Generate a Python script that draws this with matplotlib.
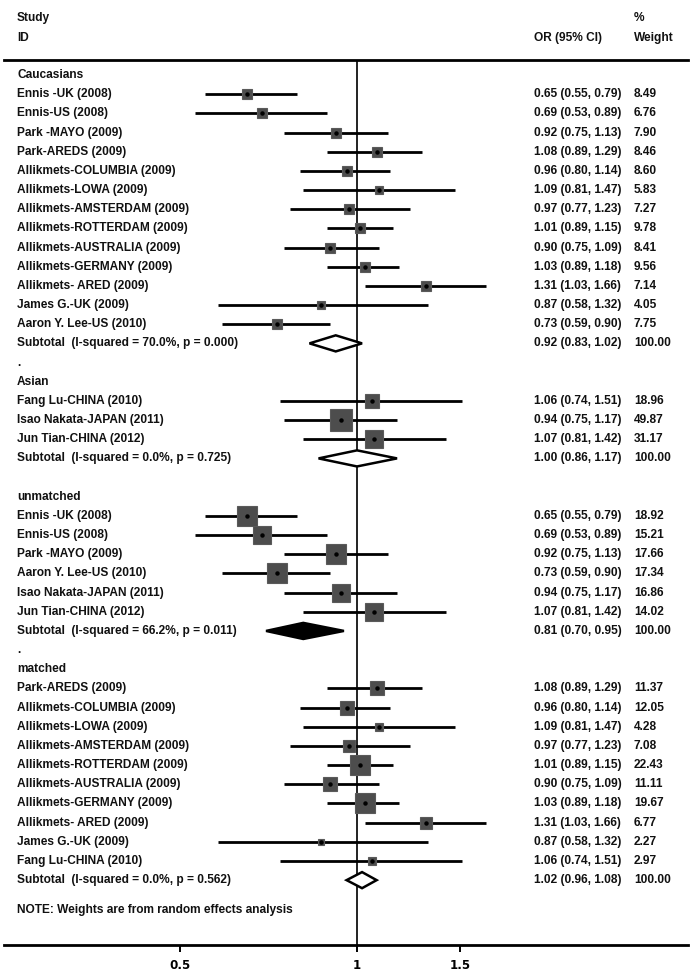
import matplotlib
matplotlib.use("Agg")
import matplotlib.pyplot as plt
from matplotlib.patches import Polygon
from matplotlib.transforms import blended_transform_factory
import numpy as np

# ---- data ----
cau_names = ["Ennis -UK (2008)", "Ennis-US (2008)", "Park -MAYO (2009)", "Park-AREDS (2009)",
             "Allikmets-COLUMBIA (2009)", "Allikmets-LOWA (2009)", "Allikmets-AMSTERDAM (2009)",
             "Allikmets-ROTTERDAM (2009)", "Allikmets-AUSTRALIA (2009)", "Allikmets-GERMANY (2009)",
             "Allikmets- ARED (2009)", "James G.-UK (2009)", "Aaron Y. Lee-US (2010)"]
cau_or = [0.65, 0.69, 0.92, 1.08, 0.96, 1.09, 0.97, 1.01, 0.90, 1.03, 1.31, 0.87, 0.73]
cau_lo = [0.55, 0.53, 0.75, 0.89, 0.80, 0.81, 0.77, 0.89, 0.75, 0.89, 1.03, 0.58, 0.59]
cau_hi = [0.79, 0.89, 1.13, 1.29, 1.14, 1.47, 1.23, 1.15, 1.09, 1.18, 1.66, 1.32, 0.90]
cau_w = [8.49, 6.76, 7.90, 8.46, 8.60, 5.83, 7.27, 9.78, 8.41, 9.56, 7.14, 4.05, 7.75]

asi_names = ["Fang Lu-CHINA (2010)", "Isao Nakata-JAPAN (2011)", "Jun Tian-CHINA (2012)"]
asi_or = [1.06, 0.94, 1.07]
asi_lo = [0.74, 0.75, 0.81]
asi_hi = [1.51, 1.17, 1.42]
asi_w = [18.96, 49.87, 31.17]

unm_names = ["Ennis -UK (2008)", "Ennis-US (2008)", "Park -MAYO (2009)", "Aaron Y. Lee-US (2010)",
             "Isao Nakata-JAPAN (2011)", "Jun Tian-CHINA (2012)"]
unm_or = [0.65, 0.69, 0.92, 0.73, 0.94, 1.07]
unm_lo = [0.55, 0.53, 0.75, 0.59, 0.75, 0.81]
unm_hi = [0.79, 0.89, 1.13, 0.90, 1.17, 1.42]
unm_w = [18.92, 15.21, 17.66, 17.34, 16.86, 14.02]

mat_names = ["Park-AREDS (2009)", "Allikmets-COLUMBIA (2009)", "Allikmets-LOWA (2009)",
             "Allikmets-AMSTERDAM (2009)", "Allikmets-ROTTERDAM (2009)", "Allikmets-AUSTRALIA (2009)",
             "Allikmets-GERMANY (2009)", "Allikmets- ARED (2009)", "James G.-UK (2009)",
             "Fang Lu-CHINA (2010)"]
mat_or = [1.08, 0.96, 1.09, 0.97, 1.01, 0.90, 1.03, 1.31, 0.87, 1.06]
mat_lo = [0.89, 0.80, 0.81, 0.77, 0.89, 0.75, 0.89, 1.03, 0.58, 0.74]
mat_hi = [1.29, 1.14, 1.47, 1.23, 1.15, 1.09, 1.18, 1.66, 1.32, 1.51]
mat_w = [11.37, 12.05, 4.28, 7.08, 22.43, 11.11, 19.67, 6.77, 2.27, 2.97]

group_labels = ["Caucasians", "Asian", "unmatched", "matched"]
sub_labels = ["Subtotal  (I-squared = 70.0%, p = 0.000)",
              "Subtotal  (I-squared = 0.0%, p = 0.725)",
              "Subtotal  (I-squared = 66.2%, p = 0.011)",
              "Subtotal  (I-squared = 0.0%, p = 0.562)"]
sub_or = [0.92, 1.00, 0.81, 1.02]
sub_lo = [0.83, 0.86, 0.70, 0.96]
sub_hi = [1.02, 1.17, 0.95, 1.08]
sub_filled = [False, False, True, False]
gap_text = [".", "", ".", None]
box_scale = [3.5, 3.25, 4.6, 4.3]   # px per sqrt(weight)

groups = [
    (cau_names, cau_or, cau_lo, cau_hi, cau_w),
    (asi_names, asi_or, asi_lo, asi_hi, asi_w),
    (unm_names, unm_or, unm_lo, unm_hi, unm_w),
    (mat_names, mat_or, mat_lo, mat_hi, mat_w),
]

# ---- layout ----
W, H = 693, 976
DPI = 100
row0_px, row_h = 75, 19.17
top_px, bot_px = 60, 945
left_px, right_px = 4, 688
null_px, px_per_ln = 357, 255.0

fig = plt.figure(figsize=(W / DPI, H / DPI), dpi=DPI)
ax = fig.add_axes([left_px / W, (H - bot_px) / H, (right_px - left_px) / W, (bot_px - top_px) / H])
ax.set_xscale("log")
ax.set_xlim(np.exp((left_px - null_px) / px_per_ln), np.exp((right_px - null_px) / px_per_ln))
ax.set_ylim((bot_px - row0_px) / row_h, (top_px - row0_px) / row_h)

plt.rcParams["font.family"] = ["Liberation Sans Narrow", "Liberation Sans", "DejaVu Sans"]
fs = 8.6
tkw = dict(fontsize=fs, fontweight="bold", color="#111111", va="center", clip_on=False)
trans = blended_transform_factory(fig.transFigure, ax.transData)
x_lab, x_ci, x_w = 17 / W, 534 / W, 634 / W

def px2row(p):
    return (p - row0_px) / row_h

ax.text(x_lab, px2row(18), "Study", transform=trans, **tkw)
ax.text(x_lab, px2row(38), "ID", transform=trans, **tkw)
ax.text(x_ci, px2row(38), "OR (95% CI)", transform=trans, **tkw)
ax.text(x_w, px2row(18), "%", transform=trans, **tkw)
ax.text(x_w, px2row(38), "Weight", transform=trans, **tkw)

r = 0
for gi, (names, ors, los, his, ws) in enumerate(groups):
    ax.text(x_lab, r, group_labels[gi], transform=trans, **tkw)
    r += 1
    for n, o, lo, hi, w in zip(names, ors, los, his, ws):
        ax.text(x_lab, r, n, transform=trans, **tkw)
        ax.plot([lo, hi], [r, r], color="black", lw=2.0, solid_capstyle="butt", zorder=3)
        side = box_scale[gi] * np.sqrt(w)
        ax.plot(o, r, marker="s", ms=side * 72 / DPI, color="#4d4d4d", mec="#5a5a5a",
                mew=0.8, zorder=4)
        ax.plot(o, r, marker="o", ms=3.2, color="black", mew=0, zorder=5)
        ax.text(x_ci, r, f"{o:.2f} ({lo:.2f}, {hi:.2f})", transform=trans, **tkw)
        ax.text(x_w, r, f"{w:.2f}", transform=trans, **tkw)
        r += 1
    # subtotal diamond
    ax.text(x_lab, r, sub_labels[gi], transform=trans, **tkw)
    h = 0.42
    o, lo, hi = sub_or[gi], sub_lo[gi], sub_hi[gi]
    dia = Polygon([[lo, r], [o, r - h], [hi, r], [o, r + h]], closed=True,
                  facecolor="black" if sub_filled[gi] else "white", edgecolor="black",
                  lw=1.8, zorder=6)
    ax.add_patch(dia)
    ax.text(x_ci, r, f"{o:.2f} ({lo:.2f}, {hi:.2f})", transform=trans, **tkw)
    ax.text(x_w, r, "100.00", transform=trans, **tkw)
    r += 1
    if gap_text[gi] is not None:
        ax.text(x_lab, r, gap_text[gi], transform=trans, **tkw)
        r += 1

ax.text(x_lab, px2row(910), "NOTE: Weights are from random effects analysis",
        transform=trans, **tkw)

# null line
ax.axvline(1.0, color="#222222", lw=1.4, zorder=2)

# spines / ticks
for s in ["left", "right"]:
    ax.spines[s].set_visible(False)
ax.spines["top"].set_linewidth(2.0)
ax.spines["bottom"].set_linewidth(2.0)
ax.set_yticks([])
ax.set_xticks([0.5, 1, 1.5])
ax.set_xticklabels(["0.5", "1", "1.5"])
ax.xaxis.set_minor_locator(matplotlib.ticker.NullLocator())
ax.tick_params(axis="x", length=5, width=1.4, labelsize=fs, pad=5)
for t in ax.get_xticklabels():
    t.set_fontweight("bold")

fig.savefig("out.png", dpi=DPI)
